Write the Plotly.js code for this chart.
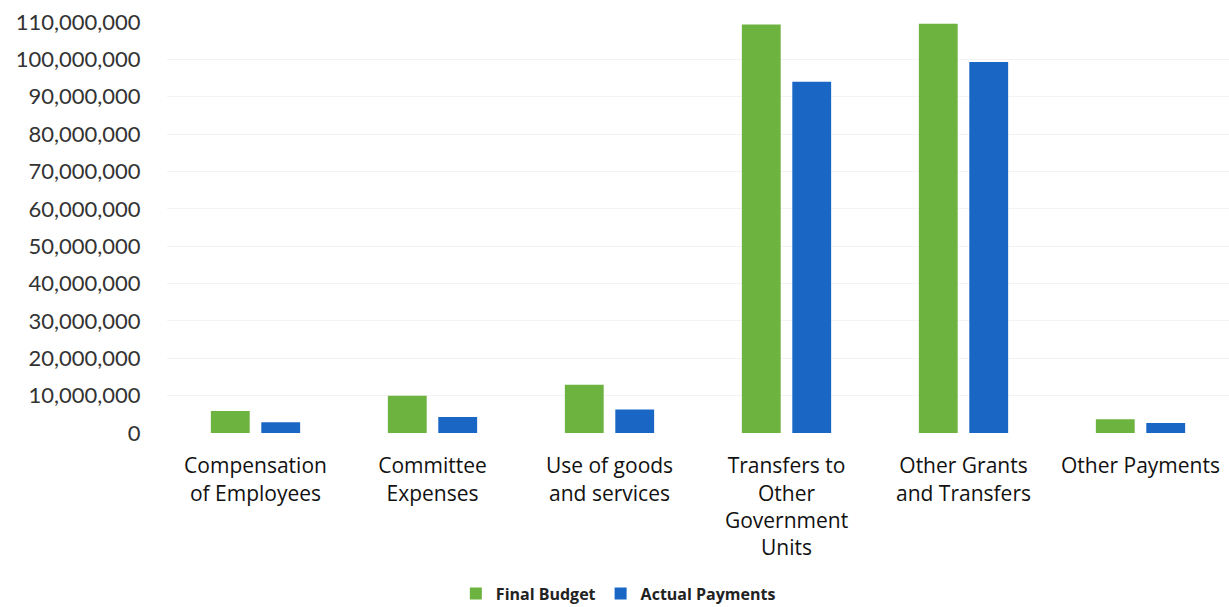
<!DOCTYPE html>
<html><head><meta charset="utf-8">
<script src="https://cdn.plot.ly/plotly-3.0.1.min.js"></script>
<style>html,body{margin:0;padding:0;background:#fff;}#chart{width:1229px;height:607px;}</style>
</head><body><div id="chart"></div>
<script>
const categories = ["Compensation<br>of Employees","Committee<br>Expenses","Use of goods<br>and services","Transfers to<br>Other<br>Government<br>Units","Other Grants<br>and Transfers","Other Payments"];
const finalBudget = [5900000, 10000000, 12900000, 109300000, 109500000, 3700000];
const actualPayments = [2900000, 4300000, 6300000, 94000000, 99300000, 2700000];
const yTicks = [0,10000000,20000000,30000000,40000000,50000000,60000000,70000000,80000000,90000000,100000000,110000000];

const traces = [
  {type:'bar', name:'Final Budget', x:categories, y:finalBudget, marker:{color:'#6db33f'}},
  {type:'bar', name:'Actual Payments', x:categories, y:actualPayments, marker:{color:'#1a66c4'}}
];
const layout = {
  width:1229, height:607,
  margin:{l:167, r:0, t:22, b:174, autoexpand:false},
  paper_bgcolor:'#fff', plot_bgcolor:'#fff',
  font:{family:'Lato, sans-serif', color:'#333'},
  barmode:'group', bargap:0.43, bargroupgap:0.23,
  showlegend:true,
  legend:{orientation:'h', x:0.425, xanchor:'center', yref:'paper', y:-0.432, yanchor:'bottom', font:{family:'Open Sans, sans-serif', size:16, color:'#222', weight:'bold'}, itemwidth:30, tracegroupgap:0},
  xaxis:{tickfont:{family:'Open Sans, sans-serif', size:21, color:'#111'}, showline:false, showgrid:false, ticks:'outside', ticklen:14, tickcolor:'rgba(0,0,0,0)', fixedrange:true, automargin:false},
  yaxis:{range:[0,110000000], tickvals:yTicks, tickformat:',d', tickfont:{size:22, color:'#333'}, showgrid:true, gridcolor:'#f3f3f3', zeroline:false, showline:false, ticks:'outside', ticklen:21, tickcolor:'rgba(0,0,0,0)', automargin:false}
};
Plotly.newPlot('chart', traces, layout, {displayModeBar:false, staticPlot:true});
</script></body></html>
